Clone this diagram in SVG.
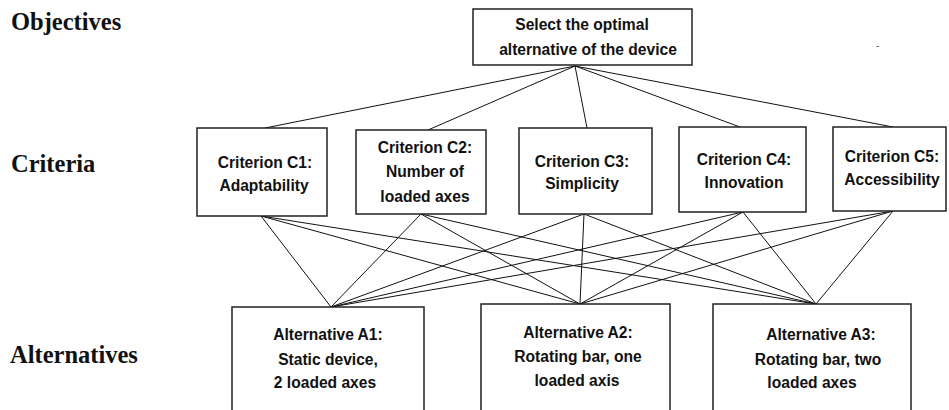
<svg xmlns="http://www.w3.org/2000/svg" width="949" height="410" viewBox="0 0 949 410">
<style>
.box{fill:#fff;stroke:#222;stroke-width:1.5}
.t{font-family:"Liberation Sans",Arial,sans-serif;font-weight:bold;font-size:15.6px;fill:#111;text-anchor:middle}
.lvl{font-family:"Liberation Serif","Times New Roman",serif;font-weight:bold;font-size:24.5px;fill:#111}
.c line{stroke:#111;stroke-width:1}
</style>
<rect width="949" height="410" fill="#fff"/>
<g id="level-labels">
<text class="lvl" x="11" y="30">Objectives</text>
<text class="lvl" x="11" y="172">Criteria</text>
<text class="lvl" x="10" y="363">Alternatives</text>
</g>
<g class="c" id="connectors">
<line x1="575" y1="66" x2="265" y2="128"/>
<line x1="575" y1="66" x2="428" y2="130"/>
<line x1="575" y1="66" x2="587" y2="128"/>
<line x1="575" y1="66" x2="740" y2="127"/>
<line x1="575" y1="66" x2="893" y2="127"/>
<line x1="261" y1="216" x2="331" y2="307"/>
<line x1="261" y1="216" x2="580" y2="304"/>
<line x1="261" y1="216" x2="816" y2="304"/>
<line x1="421" y1="214" x2="331" y2="307"/>
<line x1="421" y1="214" x2="580" y2="304"/>
<line x1="421" y1="214" x2="816" y2="304"/>
<line x1="584" y1="214" x2="331" y2="307"/>
<line x1="584" y1="214" x2="580" y2="304"/>
<line x1="584" y1="214" x2="816" y2="304"/>
<line x1="743" y1="212" x2="331" y2="307"/>
<line x1="743" y1="212" x2="580" y2="304"/>
<line x1="743" y1="212" x2="816" y2="304"/>
<line x1="893" y1="211" x2="331" y2="307"/>
<line x1="893" y1="211" x2="580" y2="304"/>
<line x1="893" y1="211" x2="816" y2="304"/>
</g>
<g id="objective">
<rect class="box" x="473" y="9" width="219" height="56"/>
<text class="t" x="582" y="30">Select the optimal</text>
<text class="t" x="588" y="55">alternative of the device</text>
</g>
<g id="c1">
<rect class="box" x="197" y="128" width="130" height="88"/>
<text class="t" x="265" y="168">Criterion C1:</text>
<text class="t" x="264" y="191">Adaptability</text>
</g>
<g id="c2">
<rect class="box" x="356" y="130" width="130" height="84"/>
<text class="t" x="425" y="153">Criterion C2:</text>
<text class="t" x="425" y="177">Number of</text>
<text class="t" x="425" y="202">loaded axes</text>
</g>
<g id="c3">
<rect class="box" x="519" y="128" width="133" height="86"/>
<text class="t" x="582" y="167">Criterion C3:</text>
<text class="t" x="582" y="189">Simplicity</text>
</g>
<g id="c4">
<rect class="box" x="679" y="127" width="127" height="85"/>
<text class="t" x="744" y="165">Criterion C4:</text>
<text class="t" x="744" y="188">Innovation</text>
</g>
<g id="c5">
<rect class="box" x="833" y="127" width="113" height="84"/>
<text class="t" x="892" y="162">Criterion C5:</text>
<text class="t" x="892" y="185">Accessibility</text>
</g>
<g id="a1">
<rect class="box" x="232" y="307" width="192" height="120"/>
<text class="t" x="328" y="340">Alternative A1:</text>
<text class="t" x="328" y="365">Static device,</text>
<text class="t" x="325" y="388">2 loaded axes</text>
</g>
<g id="a2">
<rect class="box" x="481" y="304" width="189" height="120"/>
<text class="t" x="578" y="338">Alternative A2:</text>
<text class="t" x="578" y="362">Rotating bar, one</text>
<text class="t" x="577" y="386">loaded axis</text>
</g>
<g id="a3">
<rect class="box" x="713" y="304" width="198" height="120"/>
<text class="t" x="821" y="340">Alternative A3:</text>
<text class="t" x="818" y="365">Rotating bar, two</text>
<text class="t" x="812" y="388">loaded axes</text>
</g>
<text x="876" y="49" font-family="Liberation Sans,sans-serif" font-size="10" fill="#555">-</text>
</svg>
